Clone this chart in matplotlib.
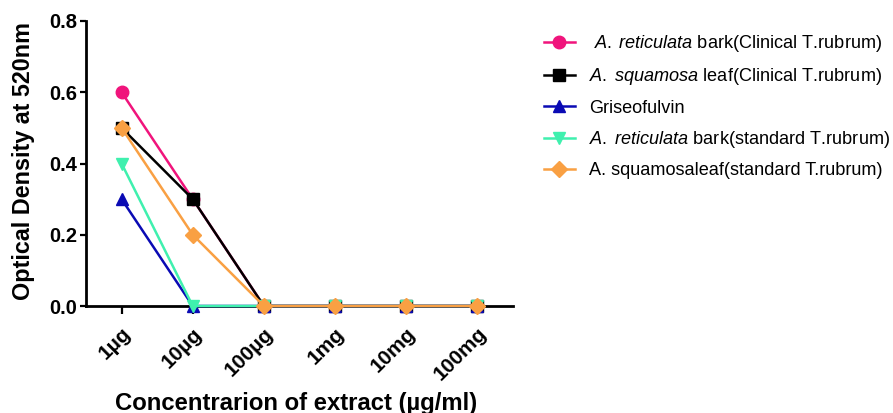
import matplotlib
matplotlib.use("Agg")
import matplotlib.pyplot as plt

plt.rcParams['font.family'] = ['Liberation Sans', 'DejaVu Sans']
plt.rcParams['mathtext.fontset'] = 'custom'
plt.rcParams['mathtext.it'] = 'Liberation Sans:italic'
plt.rcParams['mathtext.rm'] = 'Liberation Sans'

categories = ["1µg", "10µg", "100µg", "1mg", "10mg", "100mg"]
series_labels = [
    r" $\it{A.\;reticulata}$ bark(Clinical T.rubrum)",
    r"$\it{A.\;squamosa}$ leaf(Clinical T.rubrum)",
    "Griseofulvin",
    r"$\it{A.\;reticulata}$ bark(standard T.rubrum)",
    "A. squamosaleaf(standard T.rubrum)",
]
reticulata_clinical = [0.6, 0.3, 0.0, 0.0, 0.0, 0.0]
squamosa_clinical = [0.5, 0.3, 0.0, 0.0, 0.0, 0.0]
griseofulvin = [0.3, 0.0, 0.0, 0.0, 0.0, 0.0]
reticulata_standard = [0.4, 0.0, 0.0, 0.0, 0.0, 0.0]
squamosa_standard = [0.5, 0.2, 0.0, 0.0, 0.0, 0.0]
y_ticks = [0.0, 0.2, 0.4, 0.6, 0.8]
y_tick_labels = ["0.0", "0.2", "0.4", "0.6", "0.8"]

series = [reticulata_clinical, squamosa_clinical, griseofulvin,
          reticulata_standard, squamosa_standard]
colors = ["#F0147C", "#000000", "#0A0AB4", "#3FF0AE", "#F9A043"]
markers = ["o", "s", "^", "v", "D"]
msizes = [9, 9, 9, 9, 8.5]

fig = plt.figure(figsize=(8.93, 4.13), dpi=100)
ax = fig.add_axes([86/893, 1-306/413, (513-86)/893, (306-21)/413])

x = list(range(len(categories)))
for vals, lab, c, m, ms in zip(series, series_labels, colors, markers, msizes):
    ax.plot(x, vals, color=c, marker=m, markersize=ms, linewidth=1.8,
            label=lab, clip_on=False, zorder=3)

ax.set_xlim(-0.5, 5.5)
ax.set_ylim(0, 0.8)
ax.set_yticks(y_ticks)
ax.set_yticklabels(y_tick_labels, fontsize=14.5, fontweight='bold')
ax.set_xticks(x)
ax.set_xticklabels(categories, rotation=45, ha='right', va='top', rotation_mode='anchor',
                   fontsize=15, fontweight='bold')
ax.tick_params(axis='x', length=6, width=1.6, pad=7)
ax.tick_params(axis='y', length=4.5, width=1.6, pad=2)
for s in ['top', 'right']:
    ax.spines[s].set_visible(False)
for s in ['left', 'bottom']:
    ax.spines[s].set_linewidth(2)

ax.set_ylabel("Optical Density at 520nm", fontsize=16.8, fontweight='bold', va='center')
ax.yaxis.set_label_coords((24-86)/427, (306-161)/285)
ax.set_xlabel("Concentrarion of extract (µg/ml)", fontsize=17.2, fontweight='bold', va='baseline')
ax.xaxis.set_label_coords((296.5-86)/427, (306-410)/285)

leg = fig.legend(loc='upper left', bbox_to_anchor=(544/893, 1-33/413), frameon=False,
                 borderpad=0, borderaxespad=0, fontsize=13.1, handlelength=1.7,
                 labelspacing=0.68, handletextpad=0.8)

fig.savefig("out.png", dpi=100)
